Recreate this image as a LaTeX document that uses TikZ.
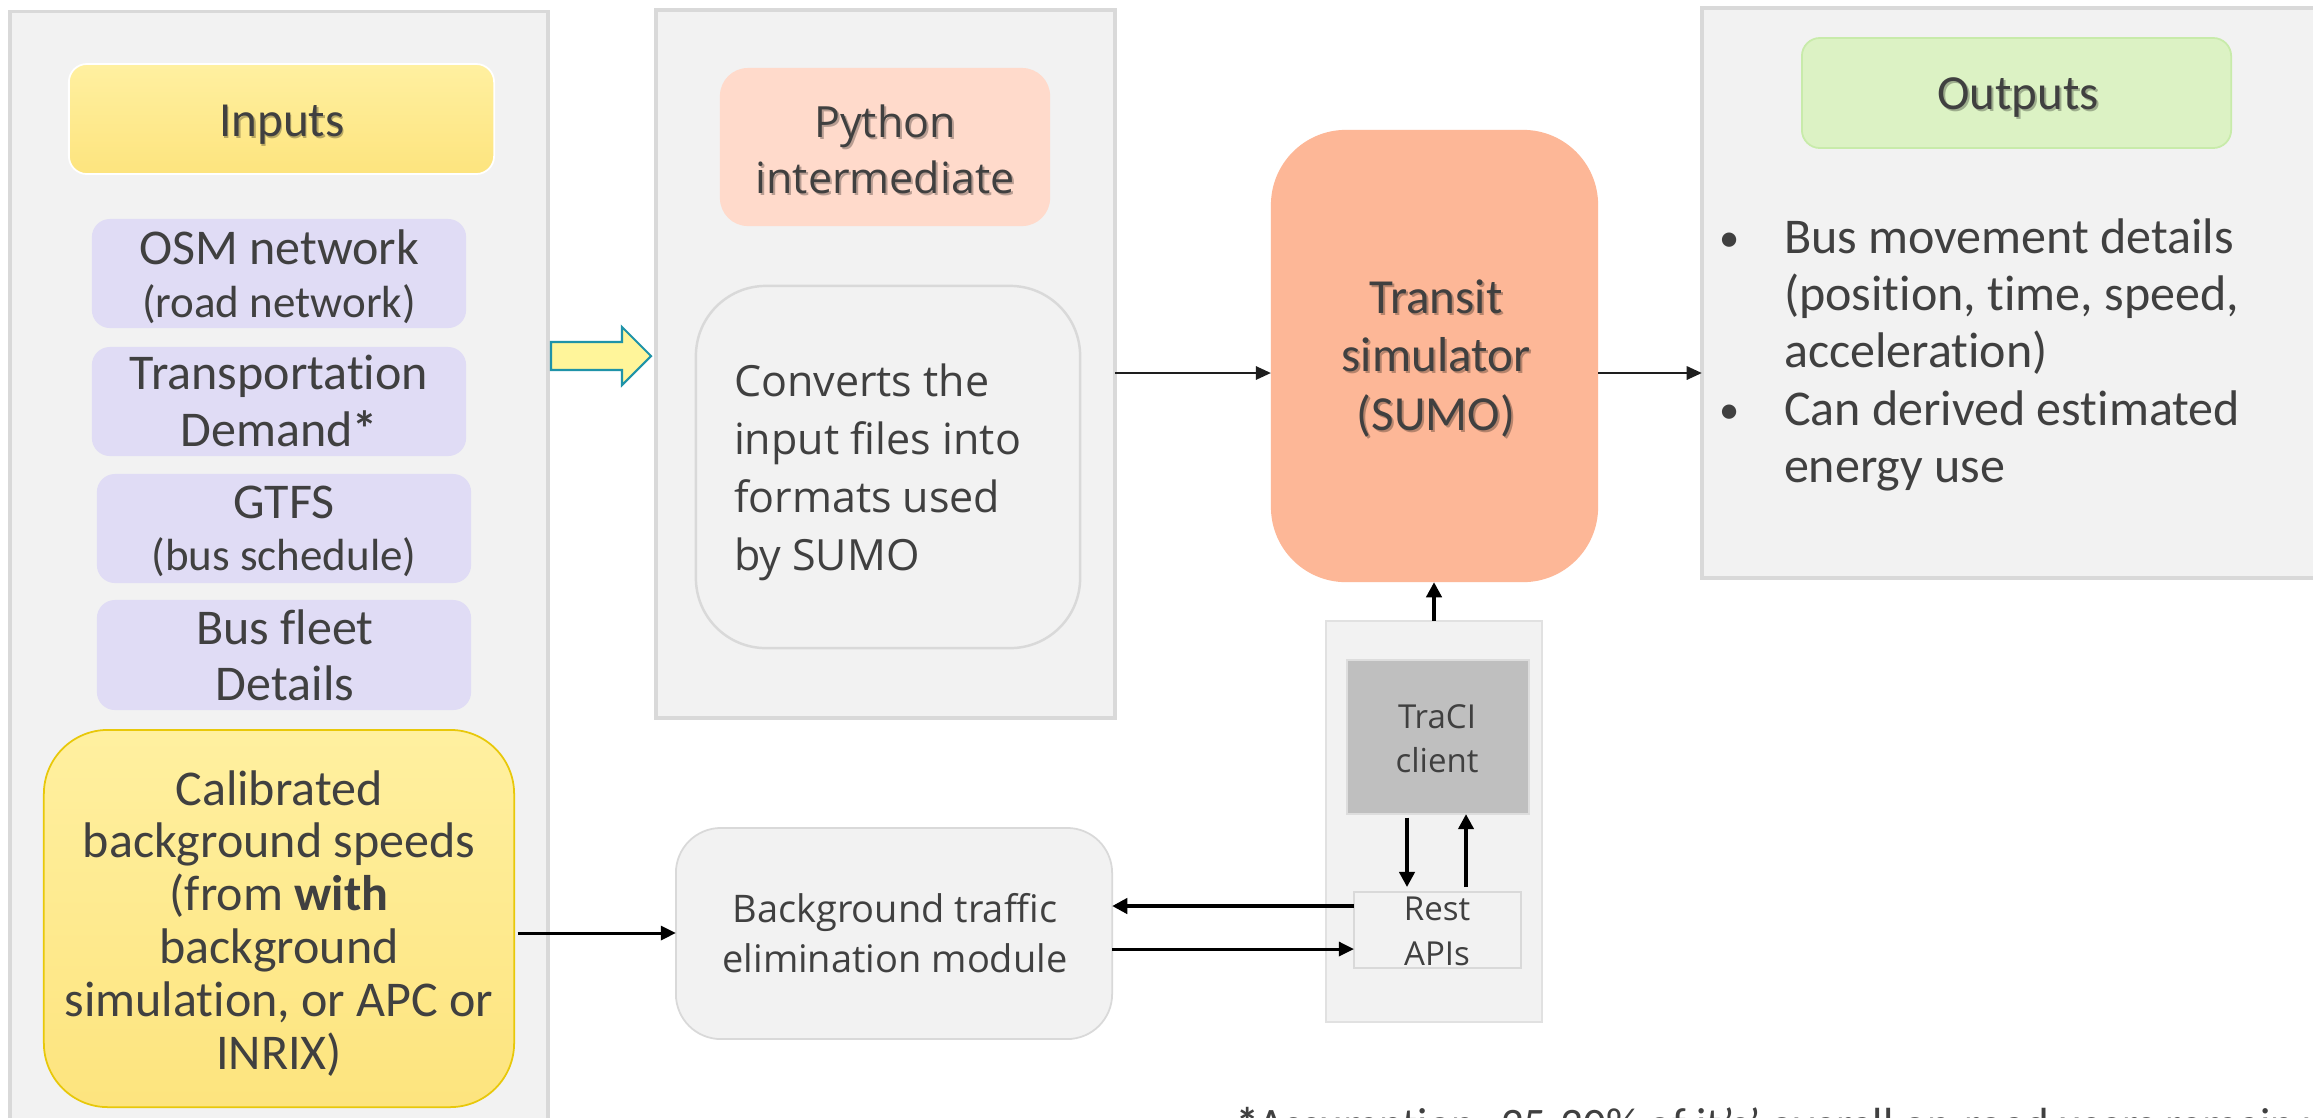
\documentclass[tikz,border=0pt]{standalone}
\usepackage{fontspec}
\setmainfont{Carlito}[Ligatures=NoCommon]
\newfontfamily\segoe{Open Sans}[Ligatures=NoCommon]
\usetikzlibrary{arrows.meta}
\definecolor{txt}{HTML}{404040}
\definecolor{panelfill}{HTML}{F2F2F2}
\definecolor{panelline}{HTML}{D9D9D9}
\definecolor{lav}{HTML}{E0DCF5}
\definecolor{yelTop}{HTML}{FFF0A0}
\definecolor{yelBot}{HTML}{FDE47E}
\definecolor{goldline}{HTML}{E8C80A}
\definecolor{peach}{HTML}{FFDACB}
\definecolor{salmon}{HTML}{FDB797}
\definecolor{greenbox}{HTML}{DCF2C4}
\definecolor{greenline}{HTML}{C8EBAA}
\definecolor{tracigray}{HTML}{BFBFBF}
\definecolor{arrowfill}{HTML}{FFF59A}
\definecolor{arrowline}{HTML}{1F93A8}
\definecolor{connc}{HTML}{1E1E1E}
\newcommand\ctab[1]{\begin{tabular}[t]{@{}c@{}}#1\end{tabular}}
\newcommand\ltab[1]{\begin{tabular}[t]{@{}l@{}}#1\end{tabular}}
\begin{document}
\begin{tikzpicture}[x=0.01cm, y=-0.01cm,
  panel/.style={draw=panelline, fill=panelfill, line width=1pt, inner sep=0, outer sep=0},
  box/.style={inner sep=0, outer sep=0},
  lbl/.style={inner sep=0, outer sep=0, text=txt, anchor=base},
  shd/.style={inner sep=0, outer sep=0, text=black, opacity=0.28, anchor=base},
  conn/.style={draw=connc, line width=0.6pt, -{Triangle[length=4.3pt,width=3.8pt]}},
  medconn/.style={draw=black, line width=0.85pt, -{Triangle[length=4.3pt,width=4pt]}},
  fatconn/.style={draw=black, line width=1.15pt, -{Triangle[length=4.3pt,width=4.3pt]}}
]
\path[use as bounding box] (0,0) rectangle (2313,1117);
\clip (0,0) rectangle (2313,1117);
\fill[white] (0,0) rectangle (2313,1117);

% panels
\node[panel, minimum width=5.38cm, minimum height=11.28cm] (inpanel) at (279,576) {};
\node[panel, minimum width=4.59cm, minimum height=7.08cm] (midpanel) at (885.5,364) {};
\node[panel, minimum width=6.38cm, minimum height=5.70cm] (outpanel) at (2021,293) {};
\node[panel, line width=0.6pt, draw=panelline!80, minimum width=2.16cm, minimum height=4.01cm] (tracipanel) at (1434,821.5) {};

% inputs column
\node[box, rounded corners=0.18cm, top color=yelTop, bottom color=yelBot, draw=white, line width=0.5pt,
      minimum width=4.25cm, minimum height=1.10cm] (inputs) at (281.5,119) {};
\node[shd, font=\fontsize{13.94}{16}\selectfont] (inputsS) at (283.5,138) {Inputs};
\node[lbl, font=\fontsize{13.94}{16}\selectfont] (inputsT) at (282,136) {Inputs};

\node[box, rounded corners=0.18cm, fill=lav, minimum width=3.74cm, minimum height=1.09cm] (osm) at (279,273.5) {};
\node[lbl, font=\fontsize{14.23}{15.08}\selectfont] (osmT) at (279,264)
  {\ctab{OSM network\\{\fontsize{12.8}{15.08}\selectfont (road network)}}};

\node[box, rounded corners=0.18cm, fill=lav, minimum width=3.74cm, minimum height=1.09cm] (transp) at (279,401.5) {};
\node[lbl, font=\fontsize{14.23}{16.22}\selectfont] (transpT) at (279,389)
  {\ctab{Transportation\\Demand\textbf{*}}};

\node[box, rounded corners=0.18cm, fill=lav, minimum width=3.74cm, minimum height=1.09cm] (gtfs) at (284,528.5) {};
\node[lbl, font=\fontsize{14.23}{14.8}\selectfont] (gtfsT) at (284,518)
  {\ctab{GTFS\\{\fontsize{12.8}{14.8}\selectfont (bus schedule)}}};

\node[box, rounded corners=0.18cm, fill=lav, minimum width=3.74cm, minimum height=1.10cm] (busfleet) at (284,655) {};
\node[lbl, font=\fontsize{14.23}{15.93}\selectfont] (busfleetT) at (285,644)
  {\ctab{Bus fleet\\Details}};

\node[box, rounded corners=0.64cm, top color=yelTop, bottom color=yelBot, draw=goldline, line width=0.5pt,
      minimum width=4.70cm, minimum height=3.77cm] (calib) at (279,918.5) {};
\node[lbl, font=\fontsize{14.23}{15.02}\selectfont] (calibT) at (279,805)
  {\ctab{Calibrated\\background speeds\\(from \textbf{with}\\background\\simulation, or APC or\\INRIX)}};

% python intermediate column
\node[box, rounded corners=0.28cm, fill=peach, minimum width=3.30cm, minimum height=1.58cm] (python) at (885,147) {};
\node[shd, font=\segoe\fontsize{12.23}{15.93}\selectfont] (pythonS) at (887,139)
  {\ctab{Python\\intermediate}};
\node[lbl, font=\segoe\fontsize{12.23}{15.93}\selectfont] (pythonT) at (885,137)
  {\ctab{Python\\intermediate}};

\node[box, rounded corners=0.70cm, fill=panelfill, draw=panelline, line width=0.7pt,
      minimum width=3.84cm, minimum height=3.62cm] (converts) at (888,467) {};
\node[lbl, anchor=base west, font=\segoe\fontsize{12.23}{16.5}\selectfont] (convertsT) at (734,396)
  {\ltab{Converts the\\input files into\\formats used\\by SUMO}};

% transit simulator
\node[box, rounded corners=0.75cm, fill=salmon, minimum width=3.27cm, minimum height=4.52cm] (transit) at (1434.5,356) {};
\node[shd, font=\fontsize{13.94}{16.64}\selectfont] (transitS) at (1438,315)
  {\ctab{Transit\\simulator\\(SUMO)}};
\node[lbl, font=\fontsize{13.94}{16.64}\selectfont] (transitT) at (1436,313)
  {\ctab{Transit\\simulator\\(SUMO)}};

% outputs
\node[box, rounded corners=0.18cm, fill=greenbox, draw=greenline, line width=0.5pt,
      minimum width=4.29cm, minimum height=1.10cm] (outputs) at (2016.5,93) {};
\node[shd, font=\fontsize{13.94}{16}\selectfont] (outputsS) at (2020,111) {Outputs};
\node[lbl, font=\fontsize{13.94}{16}\selectfont] (outputsT) at (2018,109) {Outputs};
\node[lbl, font=\fontsize{11.5}{16.27}\selectfont] (bul1) at (1730,251) {•};
\node[lbl, anchor=base west, font=\fontsize{14.23}{16.27}\selectfont] (out1) at (1784,253)
  {\ltab{Bus movement details\\(position, time, speed,\\acceleration)}};
\node[lbl, font=\fontsize{11.5}{16.27}\selectfont] (bul2) at (1730,423) {•};
\node[lbl, anchor=base west, font=\fontsize{14.23}{16.27}\selectfont] (out2) at (1784,425)
  {\ltab{Can derived estimated\\energy use}};

% TraCI
\node[box, fill=tracigray, draw=panelline!90, line width=0.5pt, minimum width=1.82cm, minimum height=1.54cm] (traci) at (1438,737) {};
\node[lbl, font=\segoe\fontsize{9.39}{12.52}\selectfont] (traciT) at (1437,728) {\ctab{TraCI\\client}};
\node[box, fill=panelfill, draw=panelline, line width=0.5pt, minimum width=1.67cm, minimum height=0.76cm] (rest) at (1437.5,930) {};
\node[lbl, font=\segoe\fontsize{9.39}{12.8}\selectfont] (restT) at (1437,920) {\ctab{Rest\\APIs}};

% background traffic module
\node[box, rounded corners=0.45cm, fill=panelfill, draw=panelline, line width=0.5pt,
      minimum width=4.36cm, minimum height=2.11cm] (bgmod) at (894,933.5) {};
\node[lbl, font=\segoe\fontsize{10.81}{14.23}\selectfont] (bgmodT) at (895,922)
  {\ctab{Background traffic\\elimination module}};

% block arrow
\draw[fill=arrowfill, draw=arrowline, line width=0.6pt, line join=miter]
  (551,342) -- (622,342) -- (622,327) -- (651,356) -- (622,385) -- (622,370) -- (551,370) -- cycle;

% connectors
\coordinate (yA) at (0,373);
\draw[conn] (midpanel.east |- yA) -- (transit.west |- yA);
\draw[conn] (transit.east |- yA) -- (outpanel.west |- yA);
\draw[fatconn] (tracipanel.north) -- (tracipanel.north |- transit.south);
\coordinate (xD) at (1407,0);
\coordinate (xU) at (1466,0);
\draw[fatconn, shorten <=1pt, shorten >=1.4pt] (traci.south -| xD) -- (rest.north -| xD);
\draw[fatconn, shorten <=1.4pt] (rest.north -| xU) -- (traci.south -| xU);
\coordinate (yR1) at (0,906);
\coordinate (yR2) at (0,949);
\draw[fatconn] (rest.west |- yR1) -- (bgmod.east |- yR1);
\draw[medconn] (bgmod.east |- yR2) -- (rest.west |- yR2);
\coordinate (yC) at (0,933);
\draw[medconn, shorten <=1pt] (calib.east |- yC) -- (bgmod.west |- yC);

% footnote (cut by the lower edge, as in the reference)
\node[lbl, anchor=base west, font=\fontsize{12.8}{15}\selectfont] (note) at (1236,1139)
  {\textbf{*}Assumption: 25-30\% of it's' overall on-road users remain within that};
\end{tikzpicture}
\end{document}
